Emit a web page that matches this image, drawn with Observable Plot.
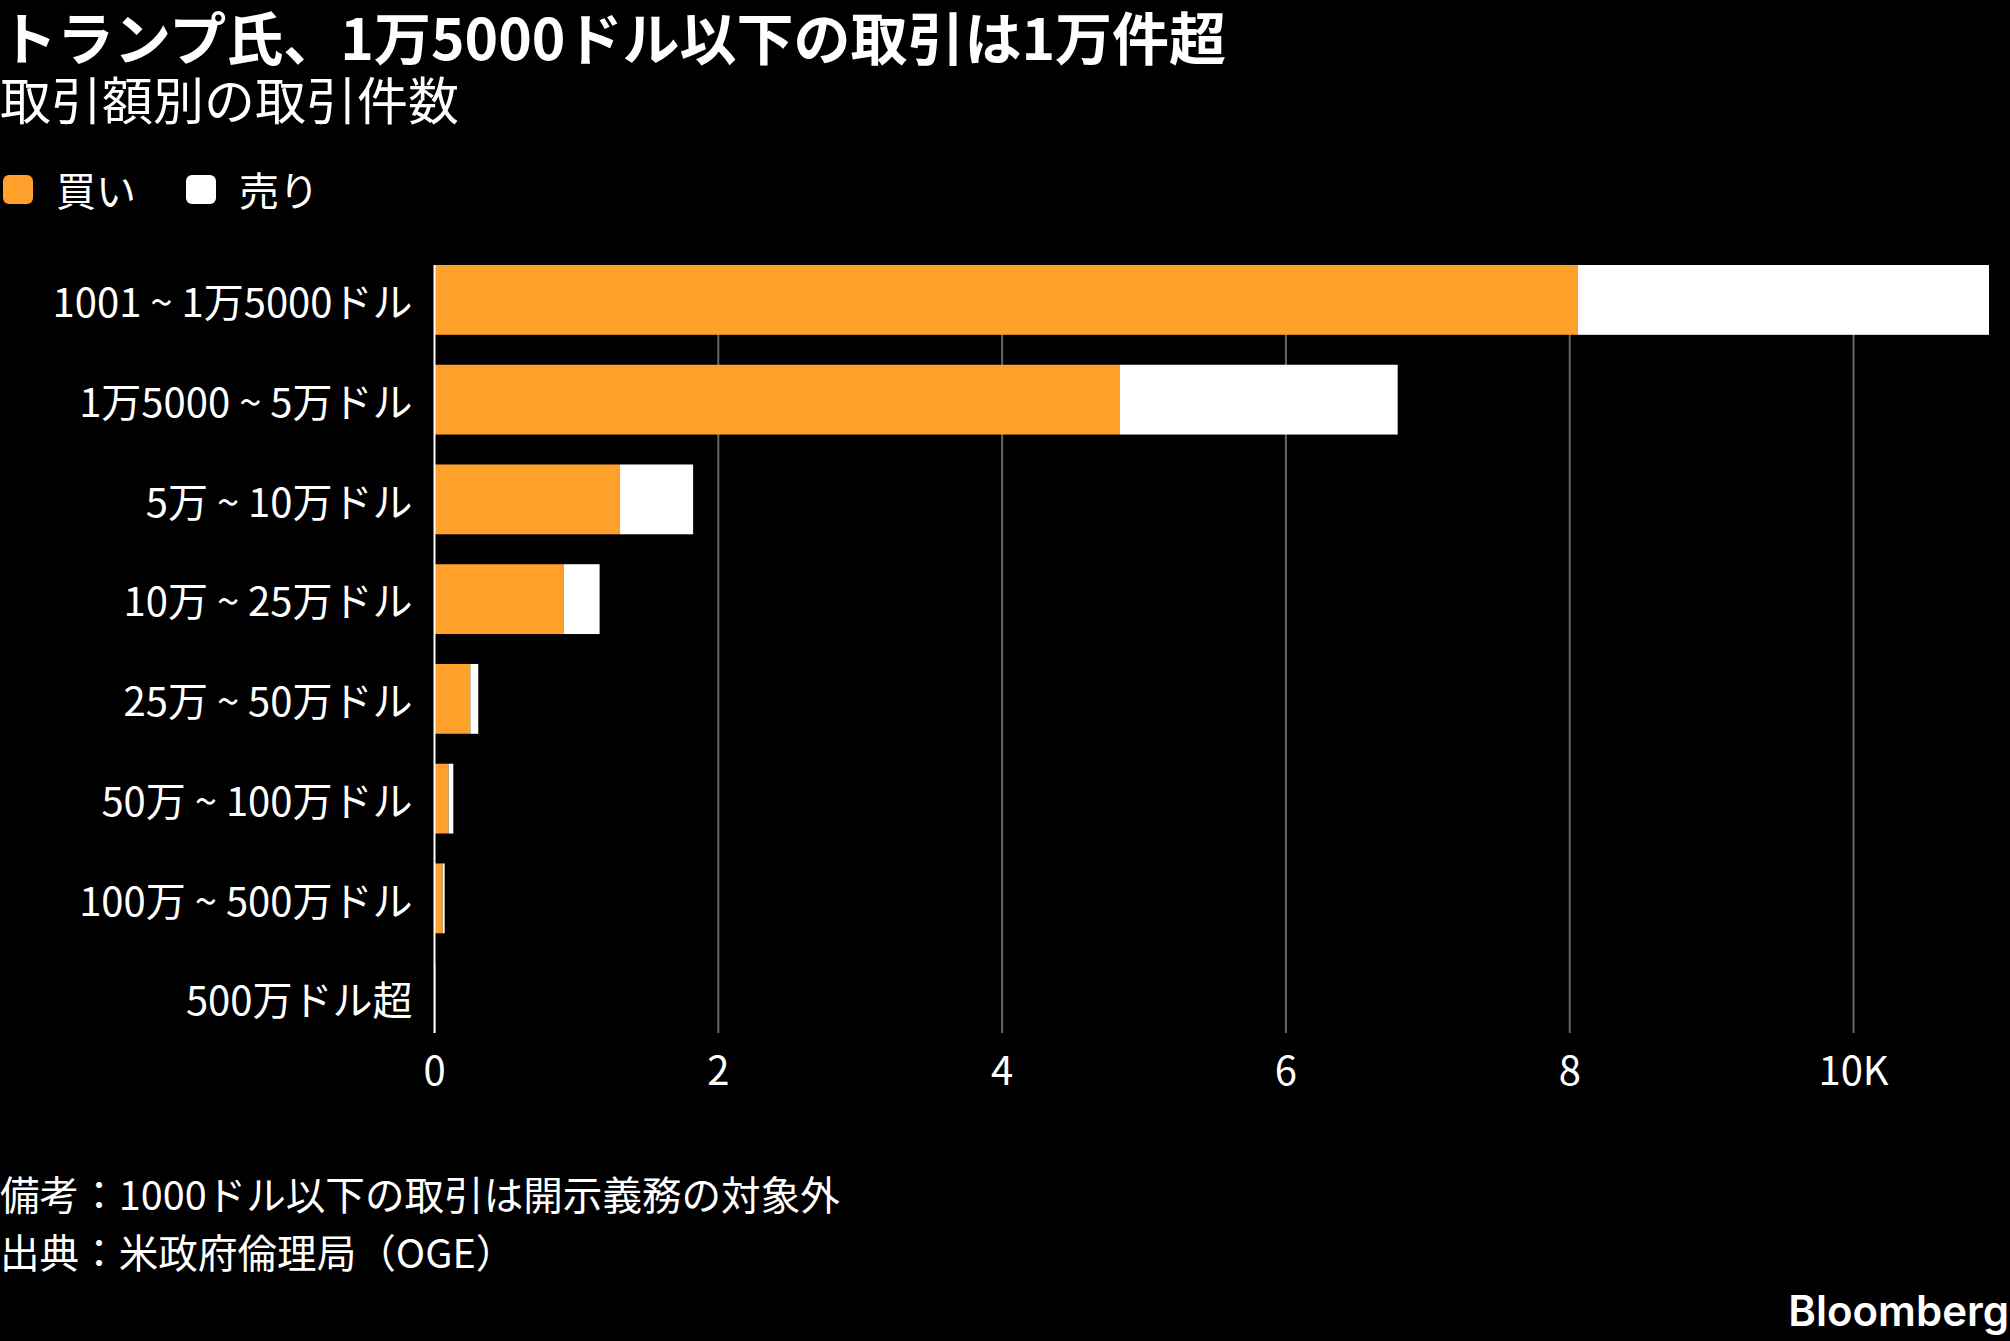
<!DOCTYPE html>
<html lang="ja">
<head>
<meta charset="utf-8">
<script src="https://cdn.jsdelivr.net/npm/d3@7"></script>
<script src="https://cdn.jsdelivr.net/npm/@observablehq/plot@0.6"></script>
<style>
  html, body { margin: 0; padding: 0; background: #000; }
  body { width: 2010px; height: 1341px; position: relative; overflow: hidden;
         font-family: "Noto Sans CJK JP", "Noto Sans", sans-serif; color: #fff; }
  .abs { position: absolute; white-space: nowrap; line-height: 1; }
  #title { left: 0; top: 7px; font-size: 57px; font-weight: 700; }
  #subtitle { left: 0; top: 73px; font-size: 51px; }
  #legend { left: 3px; top: 169px; font-size: 40px; display: flex; align-items: center; }
  .sw { width: 30px; height: 29px; border-radius: 6px; display: inline-block; margin-right: 23px; }
  .lab { margin-right: 50px; }
  #chart { position: absolute; left: 0; top: 230px; }
  .foot { left: 0; font-size: 39.6px; }
  #note { top: 1173px; }
  #source { top: 1231px; }
  #brand { right: 1px; top: 1290px; font-family: Inter, Lato, sans-serif; font-weight: 600; font-size: 42px; }
</style>
</head>
<body>
<div id="title" class="abs">トランプ氏、1万5000ドル以下の取引は1万件超</div>
<div id="subtitle" class="abs">取引額別の取引件数</div>
<div id="legend" class="abs"></div>
<div id="chart"></div>
<div id="note" class="abs foot">備考：1000ドル以下の取引は開示義務の対象外</div>
<div id="source" class="abs foot">出典：米政府倫理局（OGE）</div>
<div id="brand" class="abs">Bloomberg</div>
<script>
// Transaction-amount brackets and the number of buy / sell trades in each
const ranges = [
  "1001 ~ 1万5000ドル",
  "1万5000 ~ 5万ドル",
  "5万 ~ 10万ドル",
  "10万 ~ 25万ドル",
  "25万 ~ 50万ドル",
  "50万 ~ 100万ドル",
  "100万 ~ 500万ドル",
  "500万ドル超"
];
const buys  = [8058, 4834, 1311, 913, 256, 103, 61, 10];
const sells = [2900, 1957, 515, 254, 56, 33, 14, 0];
const sides = ["買い", "売り"];
const sideColors = ["#ffa02b", "#ffffff"];
const xTicks = [0, 2000, 4000, 6000, 8000, 10000];
const xTickLabels = ["0", "2", "4", "6", "8", "10K"];

// Long-format rows for the stacked bars (buys first, then sells)
const rows = [];
ranges.forEach((r, i) => rows.push({range: r, side: sides[0], count: buys[i]}));
ranges.forEach((r, i) => rows.push({range: r, side: sides[1], count: sells[i]}));
const maxTotal = d3.max(ranges, (r, i) => buys[i] + sells[i]);

// Legend
const legend = document.getElementById("legend");
sides.forEach((s, i) => {
  const sw = document.createElement("span");
  sw.className = "sw";
  sw.style.background = sideColors[i];
  const lab = document.createElement("span");
  lab.className = "lab";
  lab.textContent = s;
  legend.append(sw, lab);
});

const font = '"Noto Sans CJK JP", "Noto Sans", sans-serif';

const chart = Plot.plot({
  width: 2010,
  height: 880,
  marginTop: 35,
  marginBottom: 77,
  marginLeft: 434,
  marginRight: 21,
  style: { background: "transparent", color: "#fff", fontFamily: font, fontSize: "40px" },
  x: { domain: [0, maxTotal], axis: null },
  y: { domain: ranges, paddingInner: 0.3, paddingOuter: 0, round: false, axis: null },
  color: { domain: sides, range: sideColors },
  marks: [
    // vertical grid
    Plot.ruleX(xTicks.slice(1), { stroke: "#666", strokeWidth: 2 }),
    // stacked buy / sell bars
    Plot.barX(rows, Plot.stackX({ y: "range", x: "count", fill: "side", order: sides })),
    // zero baseline
    Plot.ruleX([0], { stroke: "#fff", strokeWidth: 2 }),
    // category labels
    Plot.text(ranges, {
      y: d => d, frameAnchor: "left", textAnchor: "end", dx: -22, dy: 4,
      fill: "#fff", fontSize: 40
    }),
    // x tick labels
    Plot.text(xTicks, {
      x: d => d, text: (d, i) => xTickLabels[i], frameAnchor: "bottom",
      lineAnchor: "middle", dy: 39, fill: "#fff", fontSize: 40
    })
  ]
});
document.getElementById("chart").append(chart);
</script>
</body>
</html>
